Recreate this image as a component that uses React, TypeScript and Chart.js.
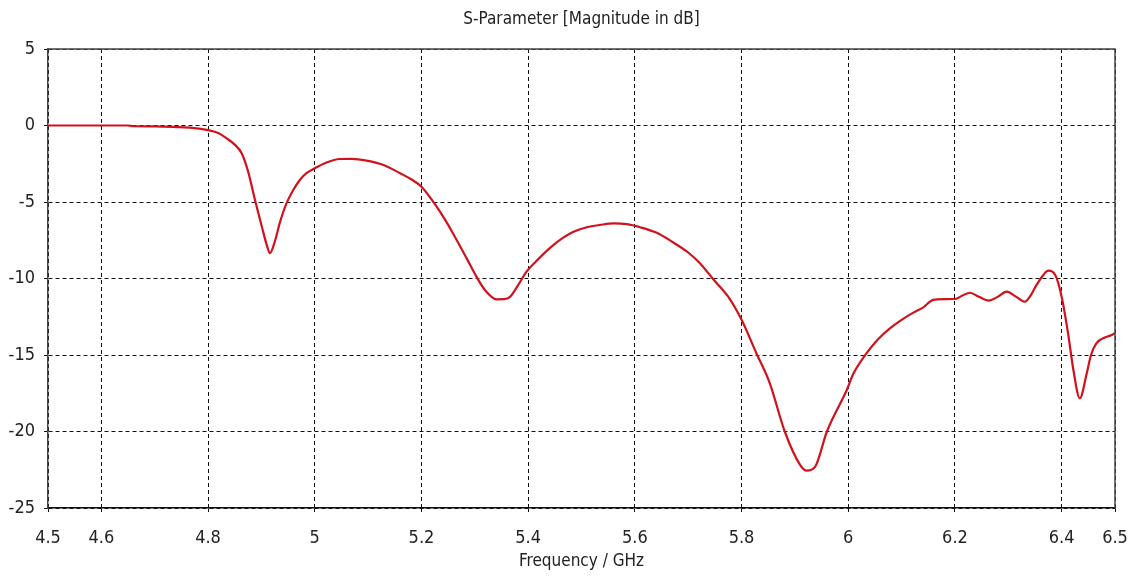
import React, { useEffect, useRef } from "react";
import { Chart, registerables } from "chart.js";

Chart.register(...registerables);

const frequencyGHz = [
  4.5, 4.55, 4.6, 4.65, 4.66, 4.7, 4.74, 4.77, 4.8, 4.82, 4.835, 4.85, 4.863, 4.875, 4.888, 4.9, 4.91, 4.916,
  4.925, 4.935, 4.947, 4.96, 4.972, 4.985, 5.0, 5.02, 5.047, 5.07, 5.097, 5.13, 5.16, 5.18, 5.2, 5.222, 5.245,
  5.266, 5.285, 5.303, 5.32, 5.341, 5.355, 5.366, 5.38, 5.397, 5.42, 5.441, 5.465, 5.485, 5.51, 5.535, 5.56,
  5.585, 5.61, 5.64, 5.67, 5.7, 5.722, 5.747, 5.775, 5.8, 5.828, 5.853, 5.881, 5.91, 5.922, 5.938, 5.96,
  5.997, 6.01, 6.034, 6.055, 6.078, 6.1, 6.122, 6.14, 6.159, 6.18, 6.2, 6.215, 6.228, 6.245, 6.263, 6.28,
  6.297, 6.315, 6.331, 6.342, 6.353, 6.365, 6.375, 6.388, 6.4, 6.412, 6.422, 6.434, 6.447, 6.455, 6.465,
  6.481, 6.49, 6.5,
];

const s11dB = [
  0.0, 0.0, 0.0, 0.0, -0.05, -0.06, -0.1, -0.15, -0.3, -0.5, -0.84, -1.25, -1.82, -3.0, -4.87, -6.5, -7.8, -8.35,
  -7.6, -6.3, -5.09, -4.2, -3.56, -3.1, -2.8, -2.45, -2.19, -2.18, -2.3, -2.6, -3.12, -3.5, -4.0, -4.98, -6.2,
  -7.48, -8.7, -9.88, -10.8, -11.36, -11.35, -11.2, -10.5, -9.55, -8.7, -8.0, -7.35, -6.94, -6.65, -6.5, -6.4,
  -6.45, -6.65, -7.0, -7.6, -8.3, -9.0, -10.05, -11.19, -12.7, -14.9, -16.85, -20.0, -22.2, -22.56, -22.3, -20.0,
  -17.3, -16.2, -14.9, -14.0, -13.26, -12.7, -12.23, -11.9, -11.4, -11.35, -11.34, -11.1, -10.93, -11.2, -11.45, -11.2,
  -10.86, -11.2, -11.52, -11.1, -10.42, -9.8, -9.49, -9.77, -11.19, -13.58, -15.98, -17.83, -16.2, -15.0, -14.24,
  -13.85, -13.75, -13.58,
];

const xTickValues = [4.5, 4.6, 4.8, 5, 5.2, 5.4, 5.6, 5.8, 6, 6.2, 6.4, 6.5];
const yTickValues = [-25, -20, -15, -10, -5, 0, 5];

const chartTitle = "S-Parameter [Magnitude in dB]";
const xAxisTitle = "Frequency / GHz";

const FONT = "'DejaVu Sans Condensed', 'DejaVu Sans', sans-serif";

export default function App() {
  const canvasRef = useRef<HTMLCanvasElement | null>(null);

  useEffect(() => {
    document.body.style.margin = "0";
    const canvas = canvasRef.current;
    if (!canvas) return;

    const frame = {
      id: "frame",
      afterDatasetsDraw(chart: any) {
        const { ctx, chartArea } = chart;
        ctx.save();
        ctx.strokeStyle = "#444";
        ctx.lineWidth = 1.5;
        ctx.beginPath();
        ctx.moveTo(chartArea.left, chartArea.top);
        ctx.lineTo(chartArea.right, chartArea.top);
        ctx.lineTo(chartArea.right, chartArea.bottom);
        ctx.stroke();
        ctx.restore();
      },
    };

    const chart = new Chart(canvas, {
      type: "line",
      data: {
        datasets: [
          {
            data: frequencyGHz.map((f, i) => ({ x: f, y: s11dB[i] })),
            borderColor: "#d0121c",
            borderWidth: 2.2,
            pointRadius: 0,
            cubicInterpolationMode: "monotone",
            fill: false,
          },
        ],
      },
      plugins: [frame],
      options: {
        responsive: false,
        animation: false,
        layout: { padding: { left: 0, right: 18, top: 0, bottom: 0 } },
        plugins: {
          legend: { display: false },
          tooltip: { enabled: false },
          title: {
            display: true,
            fullSize: false,
            text: chartTitle,
            color: "#222",
            font: { family: FONT, size: 17, weight: "normal" },
            padding: { top: 9, bottom: 49 - 9 - 17 * 1.2 },
          },
        },
        scales: {
          x: {
            type: "linear",
            min: 4.5,
            max: 6.5,
            afterBuildTicks: (scale: any) => {
              scale.ticks = xTickValues.map((v) => ({ value: v }));
            },
            afterFit: (scale: any) => {
              scale.height = 75;
              scale.paddingLeft = 0;
              scale.paddingRight = 0;
            },
            ticks: {
              color: "#222",
              font: { family: FONT, size: 18 },
              padding: 16,
              autoSkip: false,
              maxRotation: 0,
              callback: (v: any) => String(v),
            },
            grid: {
              color: "#111",
              lineWidth: 1,
              tickLength: 4,
              tickColor: "#111",
              tickBorderDash: [],
            },
            border: { display: true, color: "#111", width: 1.5, dash: [4, 3] },
            title: {
              display: true,
              text: xAxisTitle,
              color: "#222",
              font: { family: FONT, size: 17 },
              padding: { top: 0, bottom: 11 },
            },
          },
          y: {
            type: "linear",
            min: -25,
            max: 5,
            afterBuildTicks: (scale: any) => {
              scale.ticks = yTickValues.map((v) => ({ value: v }));
            },
            afterFit: (scale: any) => {
              scale.width = 48;
              scale.paddingTop = 0;
              scale.paddingBottom = 0;
            },
            ticks: {
              color: "#222",
              font: { family: FONT, size: 18 },
              padding: 9,
              callback: (v: any) => String(v),
            },
            grid: {
              color: "#111",
              lineWidth: 1,
              tickLength: 4,
              tickColor: "#111",
              tickBorderDash: [],
            },
            border: { display: true, color: "#444", width: 1.5, dash: [4, 3] },
          },
        },
      },
    });

    return () => chart.destroy();
  }, []);

  return (
    <div style={{ position: "fixed", left: 0, top: 0, width: 1133, height: 583, background: "#fff" }}>
      <canvas ref={canvasRef} width={1133} height={583} style={{ width: 1133, height: 583, display: "block" }} />
    </div>
  );
}
